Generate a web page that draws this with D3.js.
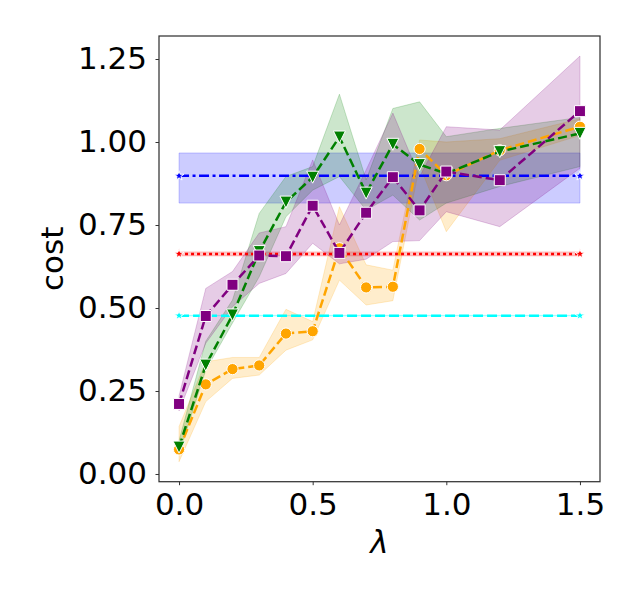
<!DOCTYPE html>
<html><head><meta charset="utf-8">
<script src="https://cdn.jsdelivr.net/npm/d3@7"></script>
<style>body{margin:0;background:#fff}svg{display:block}</style>
</head><body>
<script>
const lambdas = [0,0.1,0.2,0.3,0.4,0.5,0.6,0.7,0.8,0.9,1.0,1.2,1.5];

const orangeMean = [0.074,0.270,0.316,0.327,0.423,0.430,0.680,0.562,0.564,0.979,0.900,0.975,1.046];
const orangeLo   = [0.037,0.218,0.288,0.298,0.373,0.404,0.584,0.509,0.522,0.930,0.730,0.945,1.020];
const orangeHi   = [0.143,0.338,0.351,0.351,0.496,0.459,0.805,0.630,0.614,1.006,1.000,1.010,1.070];

const greenMean = [0.081,0.328,0.479,0.670,0.819,0.894,1.015,0.846,0.993,0.932,0.905,0.971,1.026];
const greenLo   = [0.060,0.313,0.455,0.594,0.775,0.855,0.896,0.795,0.840,0.765,0.816,0.866,0.926];
const greenHi   = [0.100,0.400,0.524,0.785,0.896,0.926,1.144,0.886,1.101,1.121,1.016,1.041,1.074];

const purpleMean = [0.211,0.476,0.570,0.658,0.656,0.808,0.666,0.787,0.894,0.794,0.911,0.885,1.093];
const purpleLo   = [0.190,0.394,0.504,0.574,0.604,0.695,0.633,0.647,0.700,0.703,0.790,0.745,0.921];
const purpleHi   = [0.235,0.559,0.610,0.726,0.745,0.946,0.750,0.916,1.087,0.896,1.046,1.036,1.259];

const baseLambdas = [0, 1.5];
const blueLevel = 0.898, blueLo = 0.816, blueHi = 0.967;
const redLevel = 0.663, redLo = 0.657, redHi = 0.669;
const cyanLevel = 0.477, cyanLo = 0.476, cyanHi = 0.478;

const xTicks = [0, 0.5, 1.0, 1.5];
const yTicks = [0, 0.25, 0.5, 0.75, 1.0, 1.25];

const W = 640, H = 600;
const L = 159, R = 600, T = 36, B = 481.7;
const svg = d3.select("body").append("svg").attr("width", W).attr("height", H);
const x = d3.scaleLinear().domain([-0.075, 1.575]).range([L, R]);
const y = d3.scaleLinear().domain([-0.0232, 1.3193]).range([B, T]);
const FONT = "DejaVu Sans, sans-serif";

function band(lo, hi, xs, color, alpha) {
  const pts = xs.map((d, i) => ({x: d, lo: lo[i], hi: hi[i]}));
  const area = d3.area().x(d => x(d.x)).y0(d => y(d.lo)).y1(d => y(d.hi));
  svg.append("path").datum(pts).attr("d", area)
    .attr("fill", color).attr("fill-opacity", alpha)
    .attr("stroke", color).attr("stroke-opacity", alpha).attr("stroke-width", 1);
}
function line(vals, xs, color, dash, width) {
  const pts = xs.map((d, i) => ({x: d, v: vals[i]}));
  svg.append("path").datum(pts)
    .attr("d", d3.line().x(d => x(d.x)).y(d => y(d.v)))
    .attr("fill", "none").attr("stroke", color).attr("stroke-width", width)
    .attr("stroke-dasharray", dash);
  return pts;
}
function markers(pts, color, shape) {
  svg.append("g").selectAll("path").data(pts).join("path")
    .attr("transform", d => `translate(${x(d.x)},${y(d.v)})`)
    .attr("d", shape).attr("fill", color).attr("stroke", "#fff").attr("stroke-width", 1);
}
const circle = d3.symbol().type(d3.symbolCircle).size(Math.PI * 5.6 * 5.6)();
const square = "M-5.5,-5.5H5.5V5.5H-5.5Z";
const triDown = "M0,6L-6,-6H6Z";
const star = d3.symbol().type(d3.symbolStar).size(30)();

// baseline bands and lines
const baselines = [
  {level: blueLevel, lo: blueLo, hi: blueHi, color: "blue", dash: "10,3.5,3,3.5"},
  {level: redLevel, lo: redLo, hi: redHi, color: "red", dash: "3,3"},
  {level: cyanLevel, lo: cyanLo, hi: cyanHi, color: "cyan", dash: "10,4"}
];
baselines.forEach(b => {
  band(baseLambdas.map(() => b.lo), baseLambdas.map(() => b.hi), baseLambdas, b.color, 0.2);
});

// series bands
band(orangeLo, orangeHi, lambdas, "orange", 0.2);
band(greenLo, greenHi, lambdas, "green", 0.2);
band(purpleLo, purpleHi, lambdas, "purple", 0.2);

baselines.forEach(b => {
  const pts = line(baseLambdas.map(() => b.level), baseLambdas, b.color, b.dash, 2.5);
  markers(pts, b.color, star);
});

const po = line(orangeMean, lambdas, "orange", "9,4", 2.5);
markers(po, "orange", circle);
const pg = line(greenMean, lambdas, "green", "9,4", 2.5);
markers(pg, "green", triDown);
const pp = line(purpleMean, lambdas, "purple", "9,4", 2.5);
markers(pp, "purple", square);

// spines
svg.append("rect").attr("x", L).attr("y", T).attr("width", R - L).attr("height", B - T)
  .attr("fill", "none").attr("stroke", "#333").attr("stroke-width", 1.25);

// axes
const gx = svg.append("g").attr("transform", `translate(0,${B})`)
  .call(d3.axisBottom(x).tickValues(xTicks).tickFormat(d3.format(".1f")).tickSize(3.5).tickPadding(7.8));
const gy = svg.append("g").attr("transform", `translate(${L},0)`)
  .call(d3.axisLeft(y).tickValues(yTicks).tickFormat(d3.format(".2f")).tickSize(3.5).tickPadding(8.5));
[gx, gy].forEach(g => {
  g.select(".domain").remove();
  g.selectAll(".tick line").attr("stroke", "#333").attr("stroke-width", 1);
  g.selectAll(".tick text").attr("fill", "#000").style("font-family", FONT).style("font-size", "31px");
});

svg.append("text").attr("transform", `translate(63,${(T + B) / 2}) rotate(-90)`)
  .attr("text-anchor", "middle").style("font-family", FONT).style("font-size", "31px").text("cost");
svg.append("text").attr("x", (L + R) / 2).attr("y", 553)
  .attr("text-anchor", "middle").style("font-family", FONT).style("font-style", "italic")
  .style("font-size", "31px").text("λ");
</script>
</body></html>
